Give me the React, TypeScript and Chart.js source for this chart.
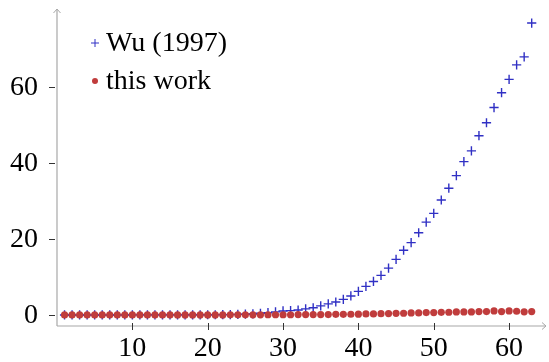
import React, { useEffect, useRef } from "react";
import { Chart, registerables } from "chart.js";

Chart.register(...registerables);

const xValues = Array.from({ length: 63 }, (_, i) => i + 1);

const wuValues = [
  0, 0, 0, 0, 0, 0, 0, 0, 0, 0.01,
  0.01, 0.01, 0.01, 0.02, 0.02, 0.03, 0.03, 0.04, 0.04, 0.05,
  0.06, 0.08, 0.1, 0.15, 0.2, 0.27, 0.45, 0.6, 0.8, 1.05,
  1.15, 1.3, 1.6, 1.9, 2.4, 2.9, 3.4, 4.1, 5.0, 6.2,
  7.5, 8.8, 10.4, 12.3, 14.6, 17.0, 19.0, 21.6, 24.4, 26.7,
  30.2, 33.3, 36.6, 40.3, 43.1, 47.1, 50.5, 54.5, 58.4, 61.9,
  65.7, 67.8, 76.7,
];

const thisWorkValues = [
  0, 0, 0, 0, 0, 0, 0, 0, 0, 0,
  0, 0, 0, 0, 0, 0.01, 0.01, 0.01, 0.01, 0.02,
  0.02, 0.02, 0.03, 0.03, 0.03, 0.04, 0.04, 0.05, 0.05, 0.05,
  0.06, 0.09, 0.09, 0.1, 0.1, 0.11, 0.18, 0.18, 0.19, 0.2,
  0.26, 0.27, 0.35, 0.36, 0.44, 0.45, 0.53, 0.54, 0.62, 0.63,
  0.7, 0.71, 0.79, 0.8, 0.8, 0.88, 0.89, 1.06, 0.9, 1.06,
  0.97, 0.82, 0.88,
];

const xTicks = [10, 20, 30, 40, 50, 60];
const yTicks = [0, 20, 40, 60];

const seriesNames = ["Wu (1997)", "this work"];
const BLUE = "#3030c4";
const RED = "#c03c3c";
const FONT = '28px "Liberation Serif", "Times New Roman", serif';

const axesPlugin = {
  id: "pgfAxes",
  afterDraw(chart: any) {
    const ctx = chart.ctx;
    const area = chart.chartArea;
    const xs = chart.scales.x;
    const ys = chart.scales.y;
    ctx.save();
    // axis lines
    ctx.strokeStyle = "#a8a8a8";
    ctx.lineWidth = 1.2;
    ctx.beginPath();
    ctx.moveTo(area.left, area.bottom);
    ctx.lineTo(area.right + 3, area.bottom);
    ctx.moveTo(area.left, area.bottom);
    ctx.lineTo(area.left, area.top - 3);
    ctx.stroke();
    // arrow heads
    ctx.lineWidth = 1;
    ctx.beginPath();
    ctx.moveTo(area.right - 1, area.bottom - 3.5);
    ctx.lineTo(area.right + 3, area.bottom);
    ctx.lineTo(area.right - 1, area.bottom + 3.5);
    ctx.moveTo(area.left - 3.5, area.top + 1);
    ctx.lineTo(area.left, area.top - 3);
    ctx.lineTo(area.left + 3.5, area.top + 1);
    ctx.stroke();

    // ticks
    ctx.strokeStyle = "#333";
    ctx.lineWidth = 1;
    ctx.beginPath();
    xTicks.forEach((t) => {
      const px = Math.round(xs.getPixelForValue(t)) + 0.5;
      ctx.moveTo(px, area.bottom - 3);
      ctx.lineTo(px, area.bottom + 4);
    });
    yTicks.forEach((t) => {
      const py = Math.round(ys.getPixelForValue(t)) + 0.5;
      ctx.moveTo(area.left - 8, py);
      ctx.lineTo(area.left - 2, py);
    });
    ctx.stroke();

    // tick labels
    ctx.fillStyle = "#000";
    ctx.font = FONT;
    ctx.textAlign = "center";
    ctx.textBaseline = "middle";
    xTicks.forEach((t) => {
      ctx.fillText(String(t), xs.getPixelForValue(t), area.bottom + 23);
    });
    ctx.textAlign = "right";
    yTicks.forEach((t) => {
      ctx.fillText(String(t), area.left - 19, ys.getPixelForValue(t) + 1);
    });

    // legend
    const lx = 95;
    const ly = [43, 81];
    ctx.textAlign = "left";
    ctx.fillText(seriesNames[0], lx + 11, ly[0] + 1);
    ctx.fillText(seriesNames[1], lx + 11, ly[1] + 1);
    ctx.strokeStyle = BLUE;
    ctx.lineWidth = 1;
    ctx.beginPath();
    ctx.moveTo(lx - 4, ly[0]);
    ctx.lineTo(lx + 4, ly[0]);
    ctx.moveTo(lx, ly[0] - 4);
    ctx.lineTo(lx, ly[0] + 4);
    ctx.stroke();
    ctx.fillStyle = RED;
    ctx.beginPath();
    ctx.arc(lx, ly[1], 3, 0, Math.PI * 2);
    ctx.fill();
    ctx.restore();
  },
};

export default function App() {
  const canvasRef = useRef<HTMLCanvasElement | null>(null);

  useEffect(() => {
    document.body.style.margin = "0";
    const canvas = canvasRef.current;
    if (!canvas) return;
    const chart = new Chart(canvas, {
      type: "scatter",
      data: {
        datasets: [
          {
            label: seriesNames[1],
            data: xValues.map((x, i) => ({ x, y: thisWorkValues[i] })),
            pointStyle: "circle",
            pointRadius: 3.6,
            pointBackgroundColor: RED,
            pointBorderColor: RED,
            pointBorderWidth: 0,
            showLine: false,
            order: 1,
          },
          {
            label: seriesNames[0],
            data: xValues.map((x, i) => ({ x, y: wuValues[i] })),
            pointStyle: "cross",
            pointRadius: 4.6,
            pointBorderColor: BLUE,
            pointBackgroundColor: BLUE,
            pointBorderWidth: 1.4,
            showLine: false,
            order: 2,
          },
        ],
      },
      options: {
        responsive: false,
        animation: false,
        devicePixelRatio: 1,
        layout: { padding: { left: 57, right: 4, top: 12, bottom: 36 } },
        plugins: { legend: { display: false }, tooltip: { enabled: false } },
        scales: {
          x: { type: "linear", min: 0, max: 64.5, display: false },
          y: { type: "linear", min: -2.9, max: 79.6, display: false },
        },
      },
      plugins: [axesPlugin],
    });
    return () => chart.destroy();
  }, []);

  return (
    <div style={{ width: 549, height: 362 }}>
      <canvas ref={canvasRef} width={549} height={362} />
    </div>
  );
}
